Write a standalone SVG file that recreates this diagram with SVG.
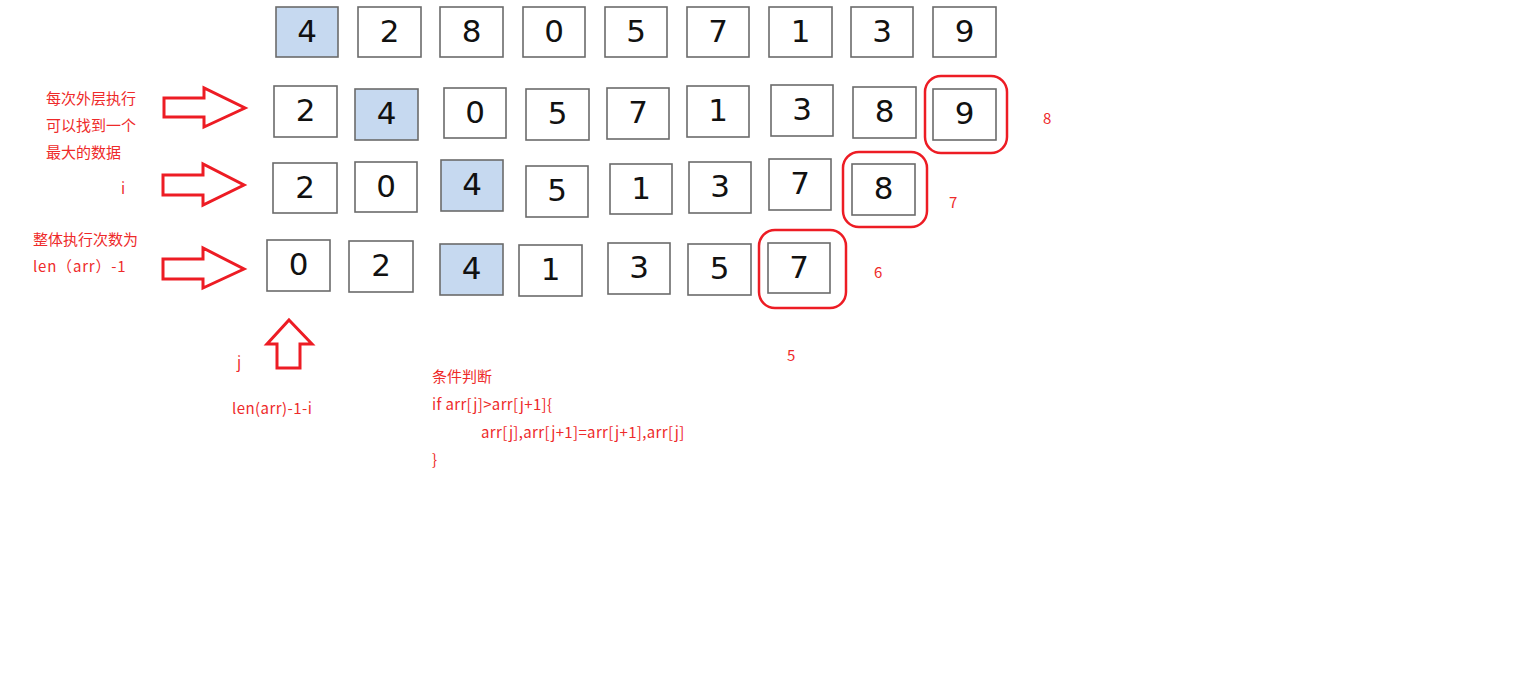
<svg xmlns="http://www.w3.org/2000/svg" width="1532" height="699" viewBox="0 0 1532 699">
<style>
.b{fill:#fff;stroke:#6b6b6b;stroke-width:1.6}
.h{fill:#c6d9f0;stroke:#6b6b6b;stroke-width:1.6}
.n{font-family:"DejaVu Sans",Verdana,sans-serif;font-size:31px;fill:#111;text-anchor:middle}
.r{fill:none;stroke:#ed1c24;stroke-width:2.5}
.a{fill:#fff;stroke:#ed1c24;stroke-width:3;stroke-linejoin:miter}
.t{font-family:"Microsoft YaHei","Noto Sans CJK SC",sans-serif;font-size:15px;fill:#ee2a2a}
.c{letter-spacing:0.35px}
</style>
<rect width="1532" height="699" fill="#fff"/>
<g id="row1">
<g id="r1c1"><rect class="h" x="276" y="7" width="62" height="50"/><text class="n" x="307" y="42">4</text></g>
<g id="r1c2"><rect class="b" x="358" y="7" width="63" height="50"/><text class="n" x="389.5" y="42">2</text></g>
<g id="r1c3"><rect class="b" x="440" y="7" width="63" height="50"/><text class="n" x="471.5" y="42">8</text></g>
<g id="r1c4"><rect class="b" x="523" y="7" width="62" height="50"/><text class="n" x="554" y="42">0</text></g>
<g id="r1c5"><rect class="b" x="605" y="7" width="62" height="50"/><text class="n" x="636" y="42">5</text></g>
<g id="r1c6"><rect class="b" x="687" y="7" width="62" height="50"/><text class="n" x="718" y="42">7</text></g>
<g id="r1c7"><rect class="b" x="769" y="7" width="63" height="50"/><text class="n" x="800.5" y="42">1</text></g>
<g id="r1c8"><rect class="b" x="851" y="7" width="62" height="50"/><text class="n" x="882" y="42">3</text></g>
<g id="r1c9"><rect class="b" x="933" y="7" width="63" height="50"/><text class="n" x="964.5" y="42">9</text></g>
</g>
<g id="row2">
<g id="r2c1"><rect class="b" x="274" y="86" width="63" height="51"/><text class="n" x="305.5" y="121">2</text></g>
<g id="r2c2"><rect class="h" x="355" y="89" width="63" height="51"/><text class="n" x="386.5" y="124">4</text></g>
<g id="r2c3"><rect class="b" x="444" y="88" width="62" height="50"/><text class="n" x="475" y="123">0</text></g>
<g id="r2c4"><rect class="b" x="526" y="89" width="63" height="51"/><text class="n" x="557.5" y="124">5</text></g>
<g id="r2c5"><rect class="b" x="607" y="88" width="62" height="51"/><text class="n" x="638" y="123">7</text></g>
<g id="r2c6"><rect class="b" x="687" y="86" width="62" height="51"/><text class="n" x="718" y="121">1</text></g>
<g id="r2c7"><rect class="b" x="771" y="85" width="62" height="51"/><text class="n" x="802" y="120">3</text></g>
<g id="r2c8"><rect class="b" x="853" y="87" width="63" height="51"/><text class="n" x="884.5" y="122">8</text></g>
<g id="r2c9"><rect class="b" x="933" y="89" width="63" height="51"/><text class="n" x="964.5" y="124">9</text><rect class="r" x="925" y="76" width="82" height="77" rx="16"/></g>
</g>
<g id="row3">
<g id="r3c1"><rect class="b" x="273" y="163" width="64" height="50"/><text class="n" x="305" y="198">2</text></g>
<g id="r3c2"><rect class="b" x="355" y="162" width="62" height="50"/><text class="n" x="386" y="197">0</text></g>
<g id="r3c3"><rect class="h" x="441" y="160" width="62" height="51"/><text class="n" x="472" y="195">4</text></g>
<g id="r3c4"><rect class="b" x="526" y="166" width="62" height="51"/><text class="n" x="557" y="201">5</text></g>
<g id="r3c5"><rect class="b" x="610" y="164" width="62" height="50"/><text class="n" x="641" y="199">1</text></g>
<g id="r3c6"><rect class="b" x="689" y="162" width="62" height="51"/><text class="n" x="720" y="197">3</text></g>
<g id="r3c7"><rect class="b" x="769" y="159" width="62" height="51"/><text class="n" x="800" y="194">7</text></g>
<g id="r3c8"><rect class="b" x="852" y="164" width="63" height="51"/><text class="n" x="883.5" y="199">8</text><rect class="r" x="843" y="152" width="84" height="75" rx="16"/></g>
</g>
<g id="row4">
<g id="r4c1"><rect class="b" x="267" y="240" width="63" height="51"/><text class="n" x="298.5" y="275">0</text></g>
<g id="r4c2"><rect class="b" x="349" y="241" width="64" height="51"/><text class="n" x="381" y="276">2</text></g>
<g id="r4c3"><rect class="h" x="440" y="244" width="63" height="51"/><text class="n" x="471.5" y="279">4</text></g>
<g id="r4c4"><rect class="b" x="519" y="245" width="63" height="51"/><text class="n" x="550.5" y="280">1</text></g>
<g id="r4c5"><rect class="b" x="608" y="243" width="62" height="51"/><text class="n" x="639" y="278">3</text></g>
<g id="r4c6"><rect class="b" x="688" y="244" width="63" height="51"/><text class="n" x="719.5" y="279">5</text></g>
<g id="r4c7"><rect class="b" x="768" y="243" width="62" height="50"/><text class="n" x="799" y="278">7</text><rect class="r" x="759" y="230" width="87" height="78" rx="16"/></g>
</g>
<g id="connectors">
<polygon class="a" points="164,98 204,98 204,88 245,108 204,127 204,117 164,117"/>
<polygon class="a" points="163,175 203,175 203,164 244,185 203,205 203,195 163,195"/>
<polygon class="a" points="163,259 203,259 203,248 244,269 203,288 203,279 163,279"/>
<polygon class="a" points="289,320 312,344 300,344 300,368 277,368 277,344 267,344"/>
</g>
<g id="labels">
<text class="t" x="46" y="104">每次外层执行</text>
<text class="t" x="46" y="131">可以找到一个</text>
<text class="t" x="46" y="158">最大的数据</text>
<text class="t" x="121" y="194">i</text>
<text class="t" x="33" y="245">整体执行次数为</text>
<text class="t c" x="33" y="272" style="letter-spacing:0.8px">len（arr）-1</text>
<text class="t" x="237" y="368">j</text>
<text class="t" x="232" y="414" style="letter-spacing:0.45px">len(arr)-1-i</text>
<text class="t" x="432" y="382">条件判断</text>
<text class="t c" x="432" y="410">if arr[j]&gt;arr[j+1]{</text>
<text class="t c" x="481" y="438">arr[j],arr[j+1]=arr[j+1],arr[j]</text>
<text class="t" x="432" y="465">}</text>
<text class="t" x="1043" y="124">8</text>
<text class="t" x="949" y="208">7</text>
<text class="t" x="874" y="278">6</text>
<text class="t" x="787" y="361">5</text>
</g>
</svg>
